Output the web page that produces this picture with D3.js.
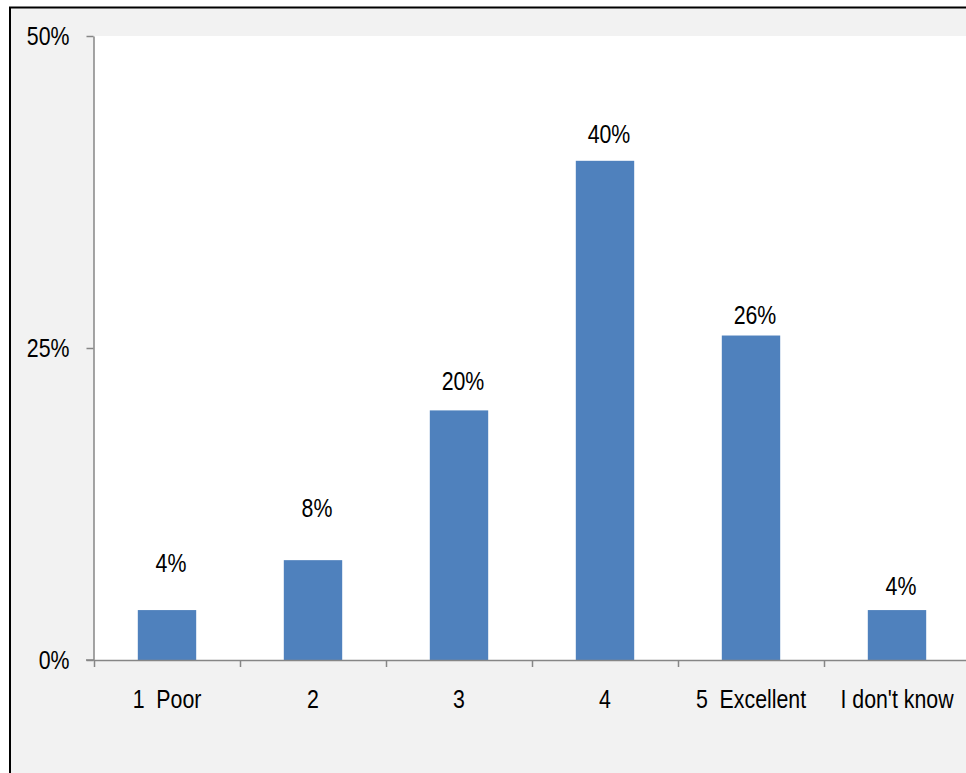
<!DOCTYPE html>
<html>
<head>
<meta charset="utf-8">
<script src="https://cdn.jsdelivr.net/npm/d3@7"></script>
<style>
  html, body { margin: 0; padding: 0; background: #ffffff; }
  svg { display: block; }
  text { font-family: "Liberation Sans Narrow", "Arial Narrow", "Liberation Sans", Arial, sans-serif; fill: #000; white-space: pre; }
</style>
</head>
<body>
<svg id="chart" width="966" height="773"></svg>
<script>
// Survey rating distribution
const categories = ["1  Poor", "2", "3", "4", "5  Excellent", "I don't know"];
const shares = [4, 8, 20, 40, 26, 4];           // percent of respondents
const yTicks = [0, 25, 50];
// how far each value label sits above its bar (px)
const labelLift = [38, 43, 20, 18, 12, 15];

const W = 966, H = 773;
const svg = d3.select("#chart");

// squeeze text horizontally to a narrow face
function condense(sel, k = 0.82) {
  sel.each(function () {
    const w = this.getComputedTextLength();
    if (w > 0) d3.select(this).attr("textLength", w * k).attr("lengthAdjust", "spacingAndGlyphs");
  });
}

// outer frame
svg.append("rect").attr("x", 0).attr("y", 0).attr("width", W).attr("height", H).attr("fill", "#ffffff");
svg.append("rect")
  .attr("x", 10).attr("y", 7.5).attr("width", W + 20).attr("height", H + 20)
  .attr("fill", "#f2f2f2").attr("stroke", "#000").attr("stroke-width", 2);

const plotLeft = 94, plotRight = 970, plotTop = 36, plotBottom = 660;

const y = d3.scaleLinear().domain([0, 50]).range([plotBottom, plotTop]);
const x = d3.scaleBand().domain(categories).range([plotLeft, plotRight])
  .paddingInner(0.6).paddingOuter(0.3);
const edges = d3.scaleLinear().domain([0, categories.length]).range([plotLeft, plotRight]);

// plot area
svg.append("rect")
  .attr("x", plotLeft).attr("y", plotTop)
  .attr("width", plotRight - plotLeft).attr("height", plotBottom - plotTop)
  .attr("fill", "#ffffff");

// bars
svg.append("g").selectAll("rect").data(shares).join("rect")
  .attr("x", (d, i) => x(categories[i]))
  .attr("width", x.bandwidth())
  .attr("y", d => y(d))
  .attr("height", d => y(0) - y(d))
  .attr("fill", "#4f81bd");

// value labels
svg.append("g").selectAll("text").data(shares).join("text")
  .attr("x", (d, i) => x(categories[i]) + x.bandwidth() / 2 + 4)
  .attr("y", (d, i) => y(d) - labelLift[i])
  .attr("text-anchor", "middle")
  .attr("font-size", 26)
  .text(d => d + "%")
  .call(condense);

const axisColor = "#868686";

// y axis
const yAxis = svg.append("g")
  .attr("transform", `translate(${plotLeft - 0.5},0)`)
  .call(d3.axisLeft(y).tickValues(yTicks).tickFormat(d => d + "%")
    .tickSize(7).tickSizeOuter(0).tickPadding(17));
yAxis.select(".domain").attr("stroke", axisColor).attr("stroke-width", 1.5);
yAxis.selectAll(".tick line").attr("stroke", axisColor).attr("stroke-width", 1.5);
yAxis.selectAll(".tick text").attr("font-size", 26).attr("font-family", null).call(condense);

// x axis line with category boundary ticks
const xEdge = svg.append("g")
  .attr("transform", `translate(0,${plotBottom})`)
  .call(d3.axisBottom(edges).tickValues(d3.range(categories.length + 1))
    .tickFormat("").tickSize(7).tickSizeOuter(0));
xEdge.select(".domain").attr("stroke", axisColor).attr("stroke-width", 1.5);
xEdge.selectAll(".tick line").attr("stroke", axisColor).attr("stroke-width", 1.5);
svg.append("line")
  .attr("x1", plotLeft - 8).attr("x2", plotLeft).attr("y1", plotBottom).attr("y2", plotBottom)
  .attr("stroke", axisColor).attr("stroke-width", 1.5);

// category labels
const xAxis = svg.append("g")
  .attr("transform", `translate(0,${plotBottom})`)
  .call(d3.axisBottom(x).tickSize(0).tickPadding(30));
xAxis.select(".domain").remove();
xAxis.selectAll(".tick text").attr("font-size", 26).attr("font-family", null).call(condense);
</script>
</body>
</html>
